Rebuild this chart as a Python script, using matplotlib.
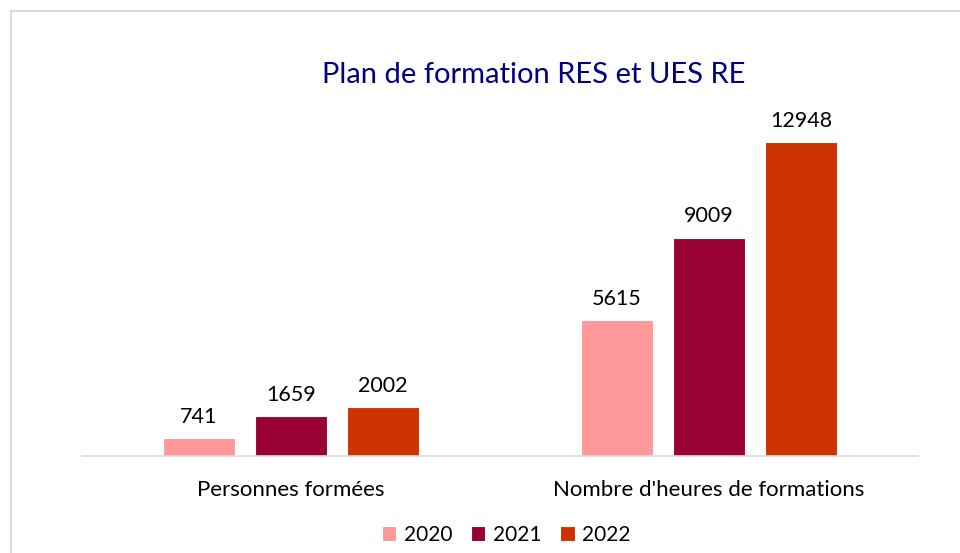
import matplotlib
matplotlib.use("Agg")
import matplotlib.pyplot as plt
from matplotlib.lines import Line2D
import numpy as np

categories = ["Personnes formées", "Nombre d'heures de formations"]
years = ["2020", "2021", "2022"]
values_2020 = [741, 5615]
values_2021 = [1659, 9009]
values_2022 = [2002, 12948]
colors = ["#FF9999", "#990033", "#CC3300"]

plt.rcParams['font.family'] = ['Lato', 'DejaVu Sans']

W, H = 960, 553
fig = plt.figure(figsize=(W / 100, H / 100), dpi=100)

# frame (only left and top edges visible)
fig.add_artist(Line2D([10.5 / W, 10.5 / W], [0, 1 - 10.5 / H], transform=fig.transFigure,
                      color="#D9D9D9", lw=1.5))
fig.add_artist(Line2D([10.5 / W, 1], [1 - 10.5 / H, 1 - 10.5 / H], transform=fig.transFigure,
                      color="#D9D9D9", lw=1.5))

ax = fig.add_axes([82 / W, (H - 456) / H, (918 - 82) / W, (456 - 100) / H])
x = np.arange(len(categories))
width = 0.172
step = 0.22
series = [values_2020, values_2021, values_2022]
for i, (yr, vals, c) in enumerate(zip(years, series, colors)):
    bars = ax.bar(x + (i - 1) * step, vals, width, color=c, edgecolor="white", linewidth=0.8, label=yr)
    for b, v in zip(bars, vals):
        ax.annotate(f"{v}", (b.get_x() + b.get_width() / 2, v), xytext=(0, 8),
                    textcoords="offset points", ha="center", va="bottom",
                    fontsize=15.5, color="#000000")

ax.set_xlim(-0.5, 1.5)
ax.set_ylim(0, 14680)
ax.set_xticks(x)
ax.set_xticklabels(categories, fontsize=16, color="#000000")
ax.tick_params(axis="x", length=0, pad=17)
ax.set_yticks([])
for s in ["left", "right", "top"]:
    ax.spines[s].set_visible(False)
ax.spines["bottom"].set_color("#D9D9D9")
ax.spines["bottom"].set_linewidth(1.2)

fig.text(534 / W, 1 - 75 / H, "Plan de formation RES et UES RE", ha="center", va="center",
         fontsize=21, color="#000080")

fig.legend(loc="center", bbox_to_anchor=(506 / W, 1 - 535 / H), ncol=3, frameon=False,
           fontsize=15, handlelength=0.7, handleheight=0.7, handletextpad=0.35,
           columnspacing=0.9)

fig.savefig("out.png", dpi=100)
